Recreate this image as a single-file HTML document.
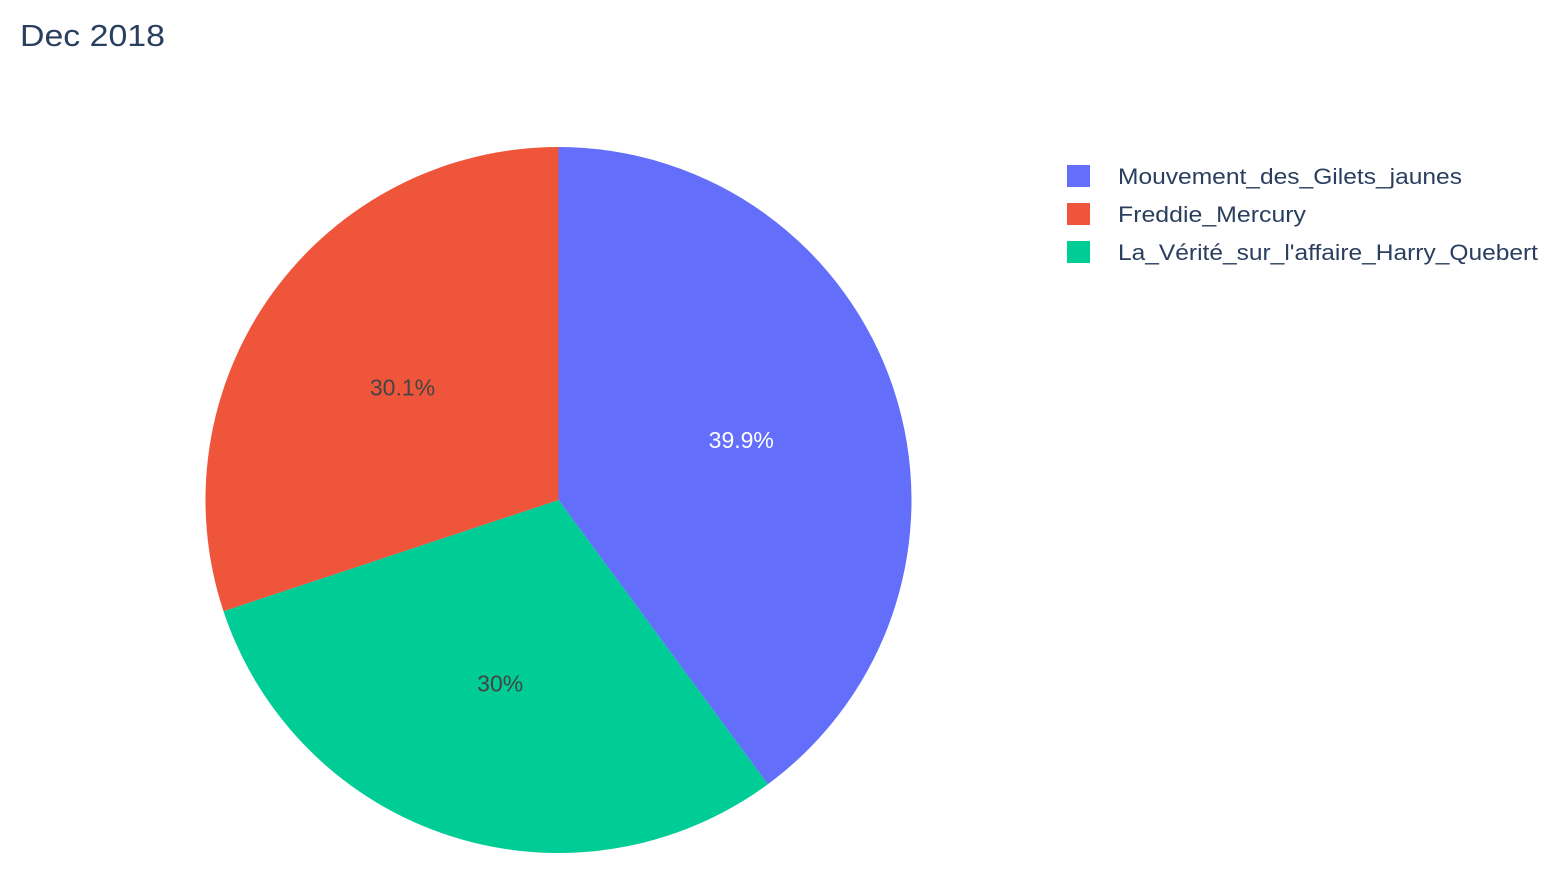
<!DOCTYPE html>
<html>
<head>
<meta charset="utf-8">
<style>
  html,body{margin:0;padding:0;background:#fff;}
  svg{display:block;font-family:"Liberation Sans",Arial,sans-serif;}
</style>
</head>
<body>
<svg id="chart" width="1566" height="882" viewBox="0 0 1566 882" xmlns="http://www.w3.org/2000/svg">
  <rect width="1566" height="882" fill="#fff"/>
  <text x="20" y="46" font-size="31" fill="#2a3f5f" textLength="145" lengthAdjust="spacingAndGlyphs">Dec 2018</text>
  <g id="slices"></g>
  <g id="labels"></g>
  <g id="legend"></g>
</svg>
<script>
const categories = ["Mouvement_des_Gilets_jaunes", "La_Vérité_sur_l'affaire_Harry_Quebert", "Freddie_Mercury"];
const values = [39.9, 30.0, 30.1];
const colors = ["#636efa", "#00cc96", "#EF553B"];
const textColors = ["#ffffff", "#444444", "#444444"];
const legendOrder = ["Mouvement_des_Gilets_jaunes", "Freddie_Mercury", "La_Vérité_sur_l'affaire_Harry_Quebert"];
const legendWidths = [344, 188, 420];

const NS = "http://www.w3.org/2000/svg";
const cx = 558.5, cy = 500, r = 353;
const total = values.reduce((a,b)=>a+b,0);
function pt(frac, rad){ const a = frac*2*Math.PI; return [cx + rad*Math.sin(a), cy - rad*Math.cos(a)]; }
function fmt(v){ const p = v/total*100; return (Math.round(p*10)/10).toString() + "%"; }

const gS = document.getElementById("slices");
const gL = document.getElementById("labels");
let acc = 0;
values.forEach((v,i)=>{
  const f0 = acc/total, f1 = (acc+v)/total;
  acc += v;
  const [x0,y0] = pt(f0,r), [x1,y1] = pt(f1,r);
  const large = (f1-f0) > 0.5 ? 1 : 0;
  const p = document.createElementNS(NS,"path");
  p.setAttribute("d", `M${cx},${cy} L${x0},${y0} A${r},${r} 0 ${large} 1 ${x1},${y1} Z`);
  p.setAttribute("fill", colors[i]);
  
  
  gS.appendChild(p);
  const [lx,ly] = pt((f0+f1)/2, r*0.545);
  const t = document.createElementNS(NS,"text");
  t.setAttribute("x", lx);
  t.setAttribute("y", ly + 8);
  t.setAttribute("text-anchor","middle");
  t.setAttribute("font-size","23");
  t.setAttribute("fill", textColors[i]);
  t.textContent = fmt(v);
  
  
  gL.appendChild(t);
});

const gLeg = document.getElementById("legend");
legendOrder.forEach((name,k)=>{
  const i = categories.indexOf(name);
  const y = 176 + k*38;
  const g = document.createElementNS(NS,"g");
  
  
  const sw = document.createElementNS(NS,"rect");
  sw.setAttribute("x",1067); sw.setAttribute("y",y-11);
  sw.setAttribute("width",23); sw.setAttribute("height",22);
  sw.setAttribute("fill",colors[i]);
  
  
  const t = document.createElementNS(NS,"text");
  t.setAttribute("x",1118); t.setAttribute("y",y+8);
  t.setAttribute("font-size","22");
  t.setAttribute("fill","#2a3f5f");
  t.setAttribute("textLength", legendWidths[k]);
  t.setAttribute("lengthAdjust","spacingAndGlyphs");
  t.textContent = name;
  
  
  g.appendChild(sw); g.appendChild(t);
  gLeg.appendChild(g);
});
</script>
</body>
</html>
